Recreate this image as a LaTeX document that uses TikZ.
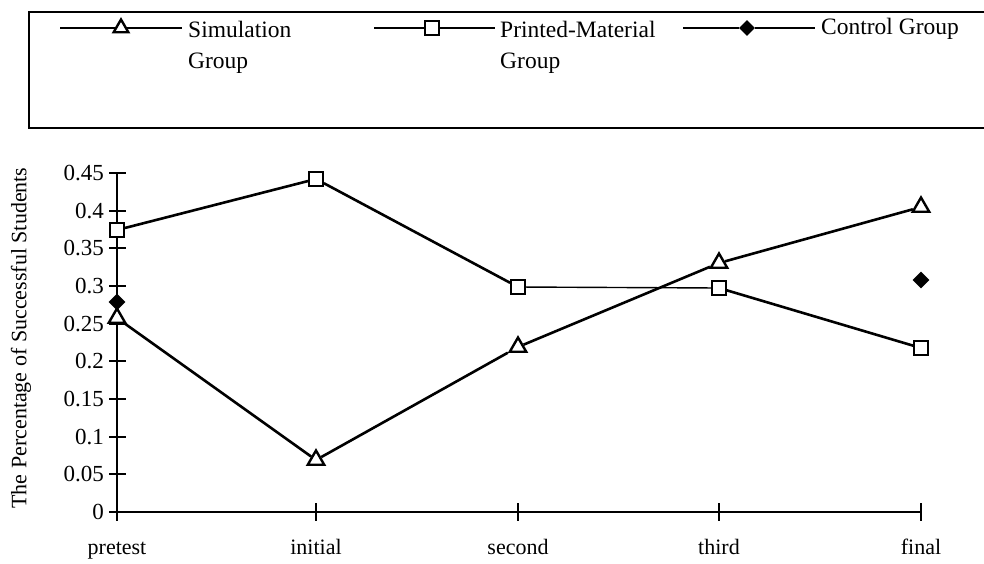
\documentclass[tikz,border=0pt]{standalone}
\usepackage{fontspec}
\setmainfont{Liberation Serif}
\usetikzlibrary{shapes.geometric}
\begin{document}
\begin{tikzpicture}[x=1pt,y=-1pt,
  tri/.style={regular polygon, regular polygon sides=3, draw=black, line width=2.4pt, fill=white, minimum size=19pt, inner sep=0pt},
  sq/.style={rectangle, draw=black, line width=1.8pt, fill=white, minimum size=14pt, inner sep=0pt},
  dia/.style={diamond, fill=black, minimum size=17pt, inner sep=0pt},
  series/.style={line width=2.6pt},
  thinseries/.style={line width=1.4pt},
  axisline/.style={line width=2pt},
  lbl/.style={font=\fontsize{22}{26}\selectfont, inner sep=0pt},
  num/.style={font=\fontsize{23}{26}\selectfont, inner sep=0pt},
  leg/.style={font=\fontsize{23.5}{27}\selectfont, inner sep=0pt},
]
\useasboundingbox (0,0) rectangle (984,563);
\fill[white] (0,0) rectangle (984,563);

% legend box (open to the right)
\draw[line width=1.8pt] (984,12) -- (29,12) -- (29,128) -- (984,128);

% legend entries
\coordinate (l1a) at (60,28);  \coordinate (l1b) at (182,28);
\node[tri, minimum size=17pt] (l1m) at (121,28) {};
\draw[line width=1.8pt] (l1a) -- (l1m) (l1m) -- (l1b);
\node[leg, anchor=west] (t1) at (188,29) {Simulation};
\node[leg, anchor=west] (t1b) at (188,63) {Group};

\coordinate (l2a) at (374,28); \coordinate (l2b) at (495,28);
\node[sq, minimum size=14pt] (l2m) at (432,28) {};
\draw[line width=1.8pt] (l2a) -- (l2m) (l2m) -- (l2b);
\node[leg, anchor=west] (t2) at (500,29) {Printed-Material};
\node[leg, anchor=west] (t2b) at (500,63) {Group};

\coordinate (l3a) at (683,28); \coordinate (l3b) at (815,28);
\node[dia, minimum size=16pt] (l3m) at (747,28) {};
\draw[line width=1.8pt] (l3a) -- (l3m) (l3m) -- (l3b);
\node[leg, anchor=west] (t3) at (821,29) {Control Group};

% axes
\coordinate (o) at (117,512);
\coordinate (ytop) at (117,173.15);
\coordinate (xend) at (921,512);
\draw[axisline] (ytop) -- (o) -- (xend);

% y ticks and labels
\foreach \k/\t in {0/0,1/0.05,2/0.1,3/0.15,4/0.2,5/0.25,6/0.3,7/0.35,8/0.4,9/0.45}{
  \draw[axisline] (109,512-37.65*\k) -- (126,512-37.65*\k);
  \node[num, anchor=east] (yl\k) at (104,512-37.65*\k) {\t};
}

% x ticks and labels
\foreach \x/\n in {117/pretest,316/initial,518/second,719/third,921/final}{
  \draw[axisline] (\x,503) -- (\x,521);
  \node[lbl, anchor=base] (xl\n) at (\x,554) {\n};
}

% y-axis title
\node[lbl, rotate=90] (ytitle) at (21,338) {The Percentage of Successful Students};

% Printed-Material group
\node[sq] (p1) at (117,230) {};
\node[sq] (p2) at (316,179) {};
\node[sq] (p3) at (518,287) {};
\node[sq] (p4) at (719,288) {};
\node[sq] (p5) at (921,348) {};
\draw[series] (p1) -- (p2);
\draw[series] (p2) -- (p3);
\draw[thinseries] (p3) -- (p4);
\draw[series] (p4) -- (p5);

% Simulation group
\node[tri] (s1) at (117,318) {};
\node[tri] (s2) at (316,460) {};
\node[tri] (s3) at (518,347) {};
\node[tri] (s4) at (719,263) {};
\node[tri] (s5) at (921,207) {};
\draw[series] (s1) -- (s2);
\draw[series] (s2) -- (s3);
\draw[series] (s3) -- (s4);
\draw[series] (s4) -- (s5);

% Control group
\node[dia] (c1) at (117,302) {};
\node[dia] (c5) at (921,280) {};
\end{tikzpicture}
\end{document}
